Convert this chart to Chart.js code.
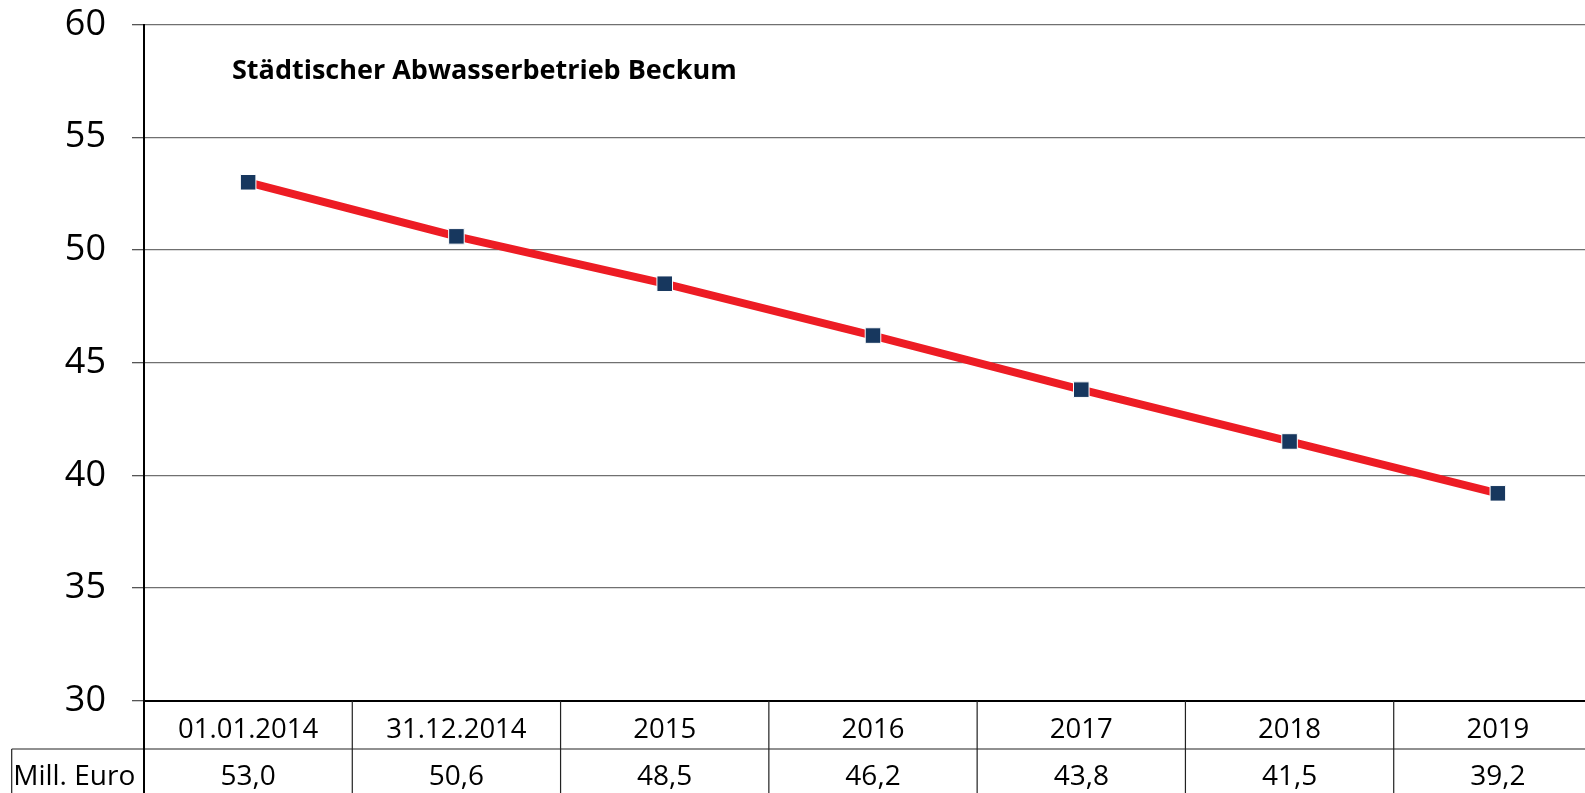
<!DOCTYPE html>
<html>
<head>
<meta charset="utf-8">
<script src="https://cdn.jsdelivr.net/npm/chart.js@4/dist/chart.umd.min.js"></script>
<style>
  html, body { margin: 0; padding: 0; background: #fff; overflow: hidden; }
  #wrap { width: 1602px; height: 793px; }
</style>
</head>
<body>
<div id="wrap"><canvas id="c" width="1602" height="793"></canvas></div>
<script>
const chartTitle = 'Städtischer Abwasserbetrieb Beckum';
const categories = ['01.01.2014', '31.12.2014', '2015', '2016', '2017', '2018', '2019'];
const values = [53.0, 50.6, 48.5, 46.2, 43.8, 41.5, 39.2];
const rowLabel = 'Mill. Euro';
const yMin = 30, yMax = 60, yStep = 5;

const FONT = '"Open Sans", "Liberation Sans", sans-serif';
const fmt = v => v.toFixed(1).replace('.', ',');

const titlePlugin = {
  id: 'innerTitle',
  afterDraw(chart) {
    const {ctx, chartArea} = chart;
    ctx.save();
    ctx.font = 'bold 27px ' + FONT;
    ctx.fillStyle = '#000';
    ctx.textAlign = 'left';
    ctx.textBaseline = 'alphabetic';
    ctx.fillText(chartTitle, chartArea.left + 88, chartArea.top + 54);
    ctx.restore();
  }
};

const tablePlugin = {
  id: 'dataTable',
  afterDraw(chart) {
    const {ctx, chartArea} = chart;
    const xs = chart.scales.x;
    const n = categories.length;
    const colW = (xs.right - xs.left) / n;
    const top = chartArea.bottom;
    const bottom = chart.height + 2;
    const rowY = top + 48.3;
    const labelLeft = 11.7;
    ctx.save();
    ctx.strokeStyle = '#222';
    ctx.lineWidth = 1.2;
    ctx.beginPath();
    for (let k = 1; k < n; k++) {
      const x = xs.left + k * colW;
      ctx.moveTo(x, top);
      ctx.lineTo(x, bottom);
    }
    ctx.moveTo(labelLeft, rowY);
    ctx.lineTo(chart.width, rowY);
    ctx.moveTo(labelLeft, rowY);
    ctx.lineTo(labelLeft, bottom);
    ctx.stroke();
    ctx.lineWidth = 2;
    ctx.strokeStyle = '#000';
    ctx.beginPath();
    ctx.moveTo(xs.left, top);
    ctx.lineTo(xs.left, bottom);
    ctx.stroke();

    ctx.font = '28px ' + FONT;
    ctx.fillStyle = '#000';
    ctx.textBaseline = 'middle';
    const vy = rowY + 28;
    ctx.textAlign = 'left';
    ctx.fillText(rowLabel, labelLeft + 1.5, vy);
    ctx.textAlign = 'center';
    values.forEach((v, i) => {
      ctx.fillText(fmt(v), xs.getPixelForValue(i), vy);
    });
    ctx.restore();
  }
};

const chart = new Chart(document.getElementById('c'), {
  type: 'line',
  data: {
    labels: categories,
    datasets: [{
      data: values,
      borderColor: '#ED1C24',
      borderWidth: 8,
      tension: 0,
      pointStyle: 'rect',
      pointRadius: 11,
      pointHoverRadius: 11,
      pointBackgroundColor: '#17375E',
      pointBorderColor: '#ffffff',
      pointBorderWidth: 1
    }]
  },
  options: {
    responsive: false,
    devicePixelRatio: 1,
    animation: false,
    events: [],
    layout: { autoPadding: false, padding: { left: 0, right: 0, top: 24.5, bottom: 0 } },
    plugins: {
      legend: { display: false },
      title: { display: false },
      tooltip: { enabled: false }
    },
    scales: {
      x: {
        type: 'category',
        offset: true,
        grid: { display: false, offset: true },
        border: { display: true, color: '#000', width: 2 },
        ticks: {
          color: '#000',
          font: { family: FONT, size: 27.5 },
          padding: 5,
          maxRotation: 0,
          autoSkip: false
        },
        afterFit(scale) {
          scale.height = 92.3;
          scale.paddingLeft = 0; scale.paddingRight = 0;
        }
      },
      y: {
        min: yMin,
        max: yMax,
        grid: {
          color: '#707070',
          lineWidth: 1.3,
          tickLength: 12,
          tickColor: '#555'
        },
        border: { display: true, color: '#000', width: 2 },
        ticks: {
          stepSize: yStep,
          color: '#000',
          padding: 26,
          font: { family: FONT, size: 36 },
          callback: v => String(v)
        },
        afterFit(scale) {
          scale.width = 144;
          scale.paddingTop = 0; scale.paddingBottom = 0;
        }
      }
    }
  },
  plugins: [titlePlugin, tablePlugin]
});
</script>
</body>
</html>
